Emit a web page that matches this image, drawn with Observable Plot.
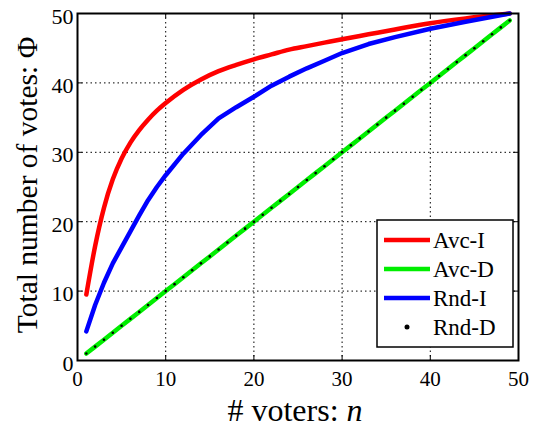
<!DOCTYPE html>
<html>
<head>
<meta charset="utf-8">
<script src="https://cdn.jsdelivr.net/npm/d3@7"></script>
<script src="https://cdn.jsdelivr.net/npm/@observablehq/plot@0.6"></script>
<style>
  html, body { margin: 0; padding: 0; background: #fff; }
  #chart { width: 533px; height: 427px; }
</style>
</head>
<body>
<div id="chart"></div>
<script>
// ---- data ----
const xTicks = [0, 10, 20, 30, 40, 50];
const yTicks = [0, 10, 20, 30, 40, 50];

const nInc = [1, 2, 3, 4, 5, 6, 7, 8, 9, 10, 12, 14, 16, 18, 20, 22, 24, 26, 28, 30, 33, 36, 40, 44, 49];
const avcI = [9.5, 16.5, 22.0, 26.1, 29.1, 31.4, 33.2, 34.7, 36.0, 37.1, 39.0, 40.5, 41.7, 42.6, 43.4, 44.1, 44.8, 45.3, 45.8, 46.3, 47.0, 47.7, 48.6, 49.3, 50.0];
const rndI = [4.2, 8.0, 11.2, 14.0, 16.3, 18.6, 20.9, 23.1, 25.0, 26.7, 29.8, 32.5, 34.9, 36.5, 38.0, 39.6, 40.9, 42.1, 43.2, 44.3, 45.6, 46.6, 47.8, 48.8, 50.0];

const nAll = [1, 2, 3, 4, 5, 6, 7, 8, 9, 10, 11, 12, 13, 14, 15, 16, 17, 18, 19, 20, 21, 22, 23, 24, 25, 26, 27, 28, 29, 30, 31, 32, 33, 34, 35, 36, 37, 38, 39, 40, 41, 42, 43, 44, 45, 46, 47, 48, 49];
const avcD = [1, 2, 3, 4, 5, 6, 7, 8, 9, 10, 11, 12, 13, 14, 15, 16, 17, 18, 19, 20, 21, 22, 23, 24, 25, 26, 27, 28, 29, 30, 31, 32, 33, 34, 35, 36, 37, 38, 39, 40, 41, 42, 43, 44, 45, 46, 47, 48, 49];
const rndD = [1, 2, 3, 4, 5, 6, 7, 8, 9, 10, 11, 12, 13, 14, 15, 16, 17, 18, 19, 20, 21, 22, 23, 24, 25, 26, 27, 28, 29, 30, 31, 32, 33, 34, 35, 36, 37, 38, 39, 40, 41, 42, 43, 44, 45, 46, 47, 48, 49];

const seriesNames = ["Avc-I", "Avc-D", "Rnd-I", "Rnd-D"];
const seriesColors = ["#ff0000", "#00ee00", "#0000ff", "#000000"];

const xLabel = "# voters: ";
const xLabelVar = "n";
const yLabel = "Total number of votes: Φ";

// ---- build tables ----
const incTable = nInc.map((n, i) => ({n, avcI: avcI[i], rndI: rndI[i]}));
const detTable = nAll.map((n, i) => ({n, avcD: avcD[i], rndD: rndD[i]}));

const W = 533, H = 427;
const mL = 77, mR = 15, mT = 13, mB = 67;
const frameH = H - mT - mB;
const frameW = W - mL - mR;
const innerTicksX = xTicks.slice(1, -1);
const innerTicksY = yTicks.slice(1, -1);
const tickLen = 5;
const font = "\"Liberation Serif\", \"DejaVu Serif\", \"Noto Serif\", Tinos, \"Times New Roman\", Times, serif";

const chart = Plot.plot({
  width: W,
  height: H,
  marginLeft: mL,
  marginRight: mR,
  marginTop: mT,
  marginBottom: mB,
  style: {fontFamily: font, background: "#fff", color: "#000"},
  x: {domain: [0, 50], ticks: xTicks},
  y: {domain: [0, 50], ticks: yTicks},
  marks: [
    Plot.gridX(innerTicksX, {stroke: "#000", strokeOpacity: 1, strokeWidth: 1, strokeDasharray: "1.5,3"}),
    Plot.gridY(innerTicksY, {stroke: "#000", strokeOpacity: 1, strokeWidth: 1, strokeDasharray: "1.5,3"}),
    // inward tick marks on all four sides
    Plot.tickX(innerTicksX, {x: d => d, stroke: "#000", strokeWidth: 1, insetTop: frameH - tickLen}),
    Plot.tickX(innerTicksX, {x: d => d, stroke: "#000", strokeWidth: 1, insetBottom: frameH - tickLen}),
    Plot.tickY(innerTicksY, {y: d => d, stroke: "#000", strokeWidth: 1, insetRight: frameW - tickLen}),
    Plot.tickY(innerTicksY, {y: d => d, stroke: "#000", strokeWidth: 1, insetLeft: frameW - tickLen}),
    Plot.axisX(xTicks, {tickSize: 0, tickPadding: 11, fontSize: 21, label: null, fill: "#000"}),
    Plot.axisY(yTicks, {tickSize: 0, tickPadding: 4, fontSize: 22, label: null, dy: 3, fill: "#000"}),
    Plot.line(incTable, {x: "n", y: "avcI", stroke: seriesColors[0], strokeWidth: 4.5, curve: "monotone-x"}),
    Plot.line(incTable, {x: "n", y: "rndI", stroke: seriesColors[2], strokeWidth: 4.5, curve: "linear"}),
    Plot.line(detTable, {x: "n", y: "avcD", stroke: seriesColors[1], strokeWidth: 4.5}),
    Plot.dot(detTable, {x: "n", y: "rndD", r: 1.3, fill: seriesColors[3], stroke: null}),
    Plot.frame({stroke: "#000", strokeWidth: 2})
  ]
});

document.getElementById("chart").appendChild(chart);

// ---- axis titles and legend (text kept as SVG text) ----
const svg = d3.select(chart);

const xl = svg.append("text")
  .attr("x", 295).attr("y", 421)
  .attr("text-anchor", "middle")
  .attr("font-size", 32).attr("fill", "#000");
xl.append("tspan").text(xLabel);
xl.append("tspan").attr("font-style", "italic").text(xLabelVar);

svg.append("text")
  .attr("transform", "translate(37,185) rotate(-90)")
  .attr("text-anchor", "middle")
  .attr("font-size", 29.5).attr("fill", "#000")
  .text(yLabel);

const lg = svg.append("g");
lg.append("rect")
  .attr("x", 377).attr("y", 220).attr("width", 136).attr("height", 127)
  .attr("fill", "#fff").attr("stroke", "#000").attr("stroke-width", 1.5);
const rowY = [240, 269, 298, 327];
seriesNames.forEach((name, i) => {
  if (i < 3) {
    lg.append("line")
      .attr("x1", 384).attr("x2", 430).attr("y1", rowY[i]).attr("y2", rowY[i])
      .attr("stroke", seriesColors[i]).attr("stroke-width", 4.5);
  } else {
    lg.append("circle").attr("cx", 407).attr("cy", rowY[i]).attr("r", 2.5)
      .attr("fill", seriesColors[i]).attr("stroke", "none");
  }
  lg.append("text")
    .attr("x", 433).attr("y", rowY[i]).attr("dy", "0.35em")
    .attr("text-anchor", "start")
    .attr("font-size", 23).attr("fill", "#000")
    .text(name);
});

// force the serif family on every text node
svg.attr("font-family", font);
svg.selectAll("text, tspan").style("font-family", font);
</script>
</body>
</html>
